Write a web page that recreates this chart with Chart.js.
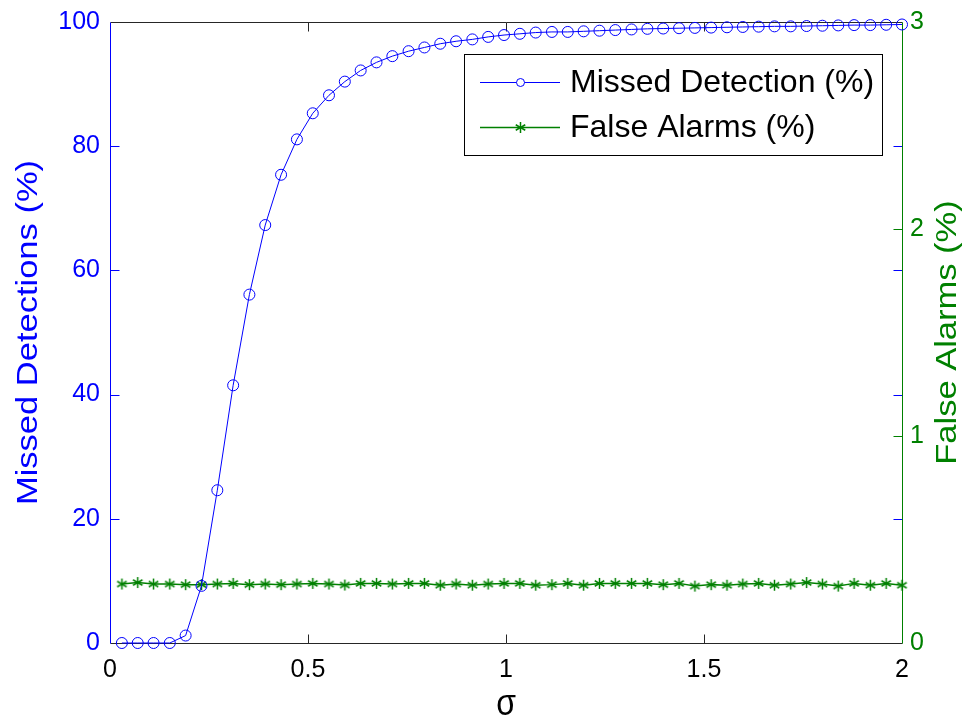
<!DOCTYPE html>
<html>
<head>
<meta charset="utf-8">
<script src="https://cdn.jsdelivr.net/npm/chart.js@4/dist/chart.umd.min.js"></script>
<style>
  html, body { margin: 0; padding: 0; background: #fff; }
  #wrap { width: 969px; height: 721px; }
</style>
</head>
<body>
<div id="wrap"><canvas id="c" width="969" height="721"></canvas></div>
<script>
// sigma values along the horizontal axis
const sigma = [
  0.030, 0.070, 0.110, 0.151, 0.191, 0.231, 0.271, 0.311, 0.352, 0.392,
  0.432, 0.472, 0.512, 0.553, 0.593, 0.633, 0.673, 0.713, 0.754, 0.794,
  0.834, 0.874, 0.915, 0.955, 0.995, 1.035, 1.075, 1.116, 1.156, 1.196,
  1.236, 1.276, 1.317, 1.357, 1.397, 1.437, 1.477, 1.518, 1.558, 1.598,
  1.638, 1.678, 1.719, 1.759, 1.799, 1.839, 1.879, 1.920, 1.960, 2.000
];

// missed detections (%), left axis
const missedDetection = [
  0, 0, 0, 0, 1.2, 9.2, 24.6, 41.5, 56.1, 67.3,
  75.4, 81.1, 85.3, 88.2, 90.4, 92.2, 93.5, 94.5, 95.3, 95.9,
  96.5, 96.9, 97.2, 97.6, 97.9, 98.1, 98.3, 98.4, 98.4, 98.5,
  98.6, 98.7, 98.8, 98.9, 98.95, 99.0, 99.05, 99.1, 99.15, 99.2,
  99.25, 99.3, 99.3, 99.35, 99.4, 99.45, 99.5, 99.5, 99.55, 99.6
];

// false alarms (%), right axis
const falseAlarms = [
  0.285, 0.292, 0.285, 0.285, 0.282, 0.282, 0.285, 0.288, 0.282, 0.285,
  0.282, 0.285, 0.288, 0.285, 0.280, 0.288, 0.288, 0.285, 0.288, 0.288,
  0.279, 0.285, 0.279, 0.285, 0.288, 0.288, 0.279, 0.282, 0.288, 0.279,
  0.288, 0.288, 0.288, 0.288, 0.282, 0.288, 0.275, 0.282, 0.279, 0.285,
  0.288, 0.279, 0.285, 0.292, 0.285, 0.275, 0.288, 0.279, 0.288, 0.279
];

const xTicks = [0, 0.5, 1, 1.5, 2];
const xTickLabels = ['0', '0.5', '1', '1.5', '2'];
const leftTicks = [0, 20, 40, 60, 80, 100];
const rightTicks = [0, 1, 2, 3];

const seriesNames = ['Missed Detection (%)', 'False Alarms (%)'];
const axisTitles = { x: 'σ', left: 'Missed Detections (%)', right: 'False Alarms (%)' };

const BLUE = '#0000ff';
const GREEN = '#008000';
const FRAME = '#262626';
const FONT = '"Liberation Sans", Arial, Helvetica, sans-serif';

// six-armed asterisk marker
function makeAsterisk(r, lw) {
  const size = Math.ceil(2 * r + 4);
  const cv = document.createElement('canvas');
  cv.width = size; cv.height = size;
  const g = cv.getContext('2d');
  g.strokeStyle = GREEN;
  g.lineWidth = lw;
  g.lineCap = 'butt';
  const c = size / 2;
  [90, 30, 150].forEach(deg => {
    const a = deg * Math.PI / 180;
    g.beginPath();
    g.moveTo(c - r * Math.cos(a), c - r * Math.sin(a));
    g.lineTo(c + r * Math.cos(a), c + r * Math.sin(a));
    g.stroke();
  });
  return cv;
}
const asterisk = makeAsterisk(5.5, 1.5);

function toPoints(xs, ys) {
  return xs.map((x, i) => ({ x: x, y: ys[i] }));
}

function drawStretchedText(ctx, text, cx, cy, rot, sx, sy, font, color) {
  ctx.save();
  ctx.translate(cx, cy);
  ctx.rotate(rot);
  ctx.scale(sx, sy);
  ctx.font = font;
  ctx.fillStyle = color;
  ctx.textAlign = 'center';
  ctx.textBaseline = 'middle';
  ctx.fillText(text, 0, 0);
  ctx.restore();
}

// axes box, inward ticks and axis titles
const framePlugin = {
  id: 'frame',
  beforeDatasetsDraw(chart) {
    const ctx = chart.ctx;
    const a = chart.chartArea;
    const sx = chart.scales.x, sy = chart.scales.y, sy1 = chart.scales.y1;
    const L = Math.round(a.left) + 0.5, R = Math.round(a.right) + 0.5;
    const T = Math.round(a.top) + 0.5, B = Math.round(a.bottom) + 0.5;
    const tl = 9;
    ctx.save();
    ctx.lineWidth = 1;
    // top and bottom edges
    ctx.strokeStyle = FRAME;
    ctx.beginPath();
    ctx.moveTo(L, T); ctx.lineTo(R, T);
    ctx.moveTo(L, B); ctx.lineTo(R, B);
    // x ticks, inward on both edges
    xTicks.forEach(v => {
      const px = Math.round(sx.getPixelForValue(v)) + 0.5;
      if (px <= L + 1 || px >= R - 1) return;
      ctx.moveTo(px, B); ctx.lineTo(px, B - tl);
      ctx.moveTo(px, T); ctx.lineTo(px, T + tl);
    });
    ctx.stroke();
    // left axis and its ticks (mirrored on the right edge)
    ctx.strokeStyle = BLUE;
    ctx.beginPath();
    ctx.moveTo(L, T); ctx.lineTo(L, B);
    leftTicks.forEach(v => {
      const py = Math.round(sy.getPixelForValue(v)) + 0.5;
      if (py <= T + 1 || py >= B - 1) return;
      ctx.moveTo(L, py); ctx.lineTo(L + tl, py);
      ctx.moveTo(R, py); ctx.lineTo(R - tl, py);
    });
    ctx.stroke();
    // right axis and its ticks
    ctx.strokeStyle = GREEN;
    ctx.beginPath();
    ctx.moveTo(R, T); ctx.lineTo(R, B);
    rightTicks.forEach(v => {
      const py = Math.round(sy1.getPixelForValue(v)) + 0.5;
      if (py <= T + 1 || py >= B - 1) return;
      ctx.moveTo(R, py); ctx.lineTo(R - tl, py);
    });
    ctx.stroke();
    ctx.restore();

    const midY = (a.top + a.bottom) / 2;
    drawStretchedText(ctx, axisTitles.left, 29, midY, -Math.PI / 2, 1.15, 1, '30px ' + FONT, BLUE);
    drawStretchedText(ctx, axisTitles.right, 948, midY, -Math.PI / 2, 1.15, 1, '30px ' + FONT, GREEN);
    drawStretchedText(ctx, axisTitles.x, (a.left + a.right) / 2, 705, 0, 1, 1.15, '32px ' + FONT, '#000');
  }
};

// boxed legend with line + marker samples
const legendPlugin = {
  id: 'boxLegend',
  afterDraw(chart) {
    const ctx = chart.ctx;
    const bx = 464.5, by = 54.5, bw = 418, bh = 101;
    ctx.save();
    ctx.fillStyle = '#fff';
    ctx.fillRect(bx, by, bw, bh);
    ctx.strokeStyle = '#000';
    ctx.lineWidth = 1;
    ctx.strokeRect(bx, by, bw, bh);

    const rows = [82.5, 127.5];
    // missed detection sample
    ctx.strokeStyle = BLUE;
    ctx.lineWidth = 1;
    ctx.beginPath();
    ctx.moveTo(480, rows[0]); ctx.lineTo(560, rows[0]);
    ctx.stroke();
    ctx.fillStyle = '#fff';
    ctx.beginPath();
    ctx.arc(520.5, rows[0], 4, 0, Math.PI * 2);
    ctx.fill();
    ctx.stroke();
    // false alarms sample
    ctx.strokeStyle = GREEN;
    ctx.lineWidth = 1.5;
    ctx.beginPath();
    ctx.moveTo(480, rows[1]); ctx.lineTo(560, rows[1]);
    ctx.stroke();
    ctx.drawImage(asterisk, 520.5 - asterisk.width / 2, rows[1] - asterisk.height / 2);

    ctx.fillStyle = '#000';
    ctx.font = '32px ' + FONT;
    ctx.textAlign = 'left';
    ctx.textBaseline = 'middle';
    ctx.fillText(seriesNames[0], 570, rows[0] + 1);
    ctx.fillText(seriesNames[1], 570, rows[1] + 1);
    ctx.restore();
  }
};

// fixed box sizes so the plot area sits at a known place
function fixScale(size) {
  return function (scale) {
    if (scale.isHorizontal()) scale.height = size; else scale.width = size;
    scale.paddingTop = 0; scale.paddingBottom = 0;
    scale.paddingLeft = 0; scale.paddingRight = 0;
  };
}

new Chart(document.getElementById('c'), {
  type: 'line',
  data: {
    datasets: [
      {
        label: seriesNames[0],
        data: toPoints(sigma, missedDetection),
        yAxisID: 'y',
        borderColor: BLUE,
        borderWidth: 1,
        pointStyle: 'circle',
        pointRadius: 5.5,
        pointBorderWidth: 1,
        pointBorderColor: BLUE,
        pointBackgroundColor: 'rgba(0,0,0,0)',
        tension: 0,
        clip: false
      },
      {
        label: seriesNames[1],
        data: toPoints(sigma, falseAlarms),
        yAxisID: 'y1',
        borderColor: GREEN,
        borderWidth: 1.5,
        pointStyle: asterisk,
        pointRadius: 6,
        tension: 0,
        clip: false
      }
    ]
  },
  options: {
    responsive: false,
    animation: false,
    devicePixelRatio: 1,
    layout: { padding: { top: 22, left: 0, right: 0, bottom: 0 } },
    plugins: {
      legend: { display: false },
      tooltip: { enabled: false }
    },
    scales: {
      x: {
        type: 'linear',
        min: 0, max: 2,
        afterBuildTicks(scale) { scale.ticks = xTicks.map(v => ({ value: v })); },
        afterFit: fixScale(78),
        grid: { display: false, drawTicks: false },
        border: { display: false },
        ticks: {
          color: '#000', padding: 12, font: { family: FONT, size: 25 },
          callback: (v) => xTickLabels[xTicks.indexOf(v)]
        }
      },
      y: {
        position: 'left',
        min: 0, max: 100,
        afterBuildTicks(scale) { scale.ticks = leftTicks.map(v => ({ value: v })); },
        afterFit: fixScale(110),
        grid: { display: false, drawTicks: false },
        border: { display: false },
        ticks: { color: BLUE, padding: 10, font: { family: FONT, size: 25 } }
      },
      y1: {
        position: 'right',
        min: 0, max: 3,
        afterBuildTicks(scale) { scale.ticks = rightTicks.map(v => ({ value: v })); },
        afterFit: fixScale(67),
        grid: { display: false, drawTicks: false },
        border: { display: false },
        ticks: { color: GREEN, padding: 8, font: { family: FONT, size: 25 } }
      }
    }
  },
  plugins: [framePlugin, legendPlugin]
});
</script>
</body>
</html>
